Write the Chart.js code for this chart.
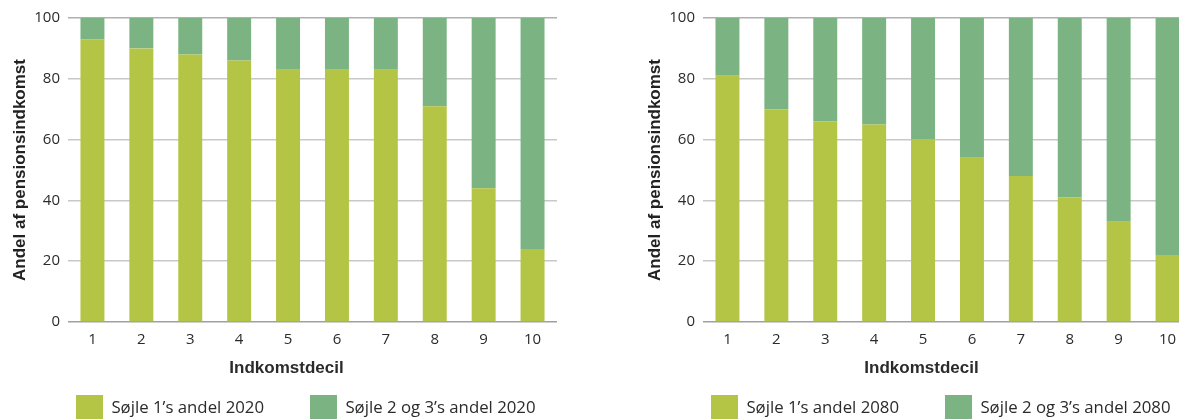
<!DOCTYPE html>
<html>
<head>
<meta charset="utf-8">
<script src="https://cdn.jsdelivr.net/npm/chart.js@4/dist/chart.umd.min.js"></script>
<style>
  html, body { margin: 0; padding: 0; background: #fff; }
  body { width: 1179px; height: 419px; overflow: hidden; position: relative; }
  .wrap { position: absolute; top: 0; width: 600px; height: 440px; }
  #w1 { left: 0px; }
  #w2 { left: 635px; }
</style>
</head>
<body>
<div class="wrap" id="w1"><canvas id="c1" width="600" height="440"></canvas></div>
<div class="wrap" id="w2"><canvas id="c2" width="600" height="440"></canvas></div>
<script>
// ---- data ----
const categories = ['1', '2', '3', '4', '5', '6', '7', '8', '9', '10'];
const yTicks = [0, 20, 40, 60, 80, 100];
const pillar1_2020 = [93, 90, 88, 86, 83, 83, 83, 71, 44, 24];
const pillar23_2020 = [7, 10, 12, 14, 17, 17, 17, 29, 56, 76];
const pillar1_2080 = [81, 70, 66, 65, 60, 54, 48, 41, 33, 22];
const pillar23_2080 = [19, 30, 34, 35, 40, 46, 52, 59, 67, 78];
const labels2020 = ['Søjle 1’s andel 2020', 'Søjle 2 og 3’s andel 2020'];
const labels2080 = ['Søjle 1’s andel 2080', 'Søjle 2 og 3’s andel 2080'];
const xTitle = 'Indkomstdecil';
const yTitle = 'Andel af pensionsindkomst';

// ---- styles ----
const YELLOW = '#b4c444';
const GREEN = '#7bb482';
const TEXT = '#2b2b2b';
const TICK_FONT = { family: '"Open Sans", sans-serif', size: 15 };
const LEGEND_FONT = { family: '"Open Sans", sans-serif', size: 16.8 };
const TITLE_FONT = { family: '"Liberation Sans", Arial, sans-serif', size: 17, weight: 'bold' };

function measure(text, font) {
  const c = document.createElement('canvas').getContext('2d');
  c.font = (font.weight ? font.weight + ' ' : '') + font.size + 'px ' + font.family;
  return c.measureText(text).width;
}

const layoutPlugin = {
  id: 'layoutTweaks',
  afterLayout(chart) {
    const lg = chart.legend;
    if (!lg) return;
    const pad = lg.options.labels.padding;
    lg.left = chart.chartArea.left + 8 - pad;
    lg.right = lg.left + 3000;
    lg.width = 3000;
    lg.top = 395 - pad;
    lg.bottom = lg.top + 100;
  },
  afterDraw(chart) {
    const ctx = chart.ctx;
    const a = chart.chartArea;
    ctx.save();
    ctx.font = 'bold 17px "Liberation Sans", Arial, sans-serif';
    ctx.fillStyle = TEXT;
    ctx.textAlign = 'center';
    ctx.textBaseline = 'middle';
    ctx.fillText(xTitle, (a.left + a.right) / 2 - 26, 368);
    ctx.restore();
  }
};

function makeChart(id, s1, s23, legendLabels) {
  const tw = measure(legendLabels[0], LEGEND_FONT);
  const legendPad = 234 - 27 - LEGEND_FONT.size / 2 - tw;
  return new Chart(document.getElementById(id), {
    type: 'bar',
    data: {
      labels: categories,
      datasets: [
        { label: legendLabels[0], data: s1, backgroundColor: YELLOW, borderWidth: 0 },
        { label: legendLabels[1], data: s23, backgroundColor: GREEN, borderWidth: 0 }
      ]
    },
    options: {
      responsive: false,
      animation: false,
      layout: { padding: { top: 18, left: 0, right: 43, bottom: 0 } },
      datasets: { bar: { categoryPercentage: 1, barPercentage: 0.49 } },
      plugins: {
        tooltip: { enabled: false },
        legend: {
          position: 'bottom',
          align: 'start',
          maxHeight: 60,
          labels: {
            boxWidth: 27,
            boxHeight: 27,
            padding: legendPad,
            color: TEXT,
            font: LEGEND_FONT
          }
        }
      },
      scales: {
        x: {
          stacked: true,
          grid: { display: false, drawTicks: false },
          border: { display: false },
          ticks: { color: TEXT, font: TICK_FONT, padding: 9, maxRotation: 0 },
          afterFit(s) { s.height = 58; }
        },
        y: {
          stacked: true,
          min: 0,
          max: 100,
          afterBuildTicks(s) { s.ticks = yTicks.map(v => ({ value: v })); },
          grid: {
            drawTicks: false,
            lineWidth: 1.6,
            color(ctx) {
              const v = ctx.tick && ctx.tick.value;
              if (v === 0) return '#a0a0a0';
              if (v === 100) return '#b0b0b0';
              return '#c8c8c8';
            }
          },
          border: { display: false },
          ticks: { color: TEXT, font: TICK_FONT, padding: 8 },
          title: {
            display: true,
            text: yTitle,
            color: '#222',
            font: TITLE_FONT,
            padding: { top: 10, bottom: 0 }
          },
          afterFit(s) { s.width = 68; }
        }
      }
    },
    plugins: [layoutPlugin]
  });
}

makeChart('c1', pillar1_2020, pillar23_2020, labels2020);
makeChart('c2', pillar1_2080, pillar23_2080, labels2080);
</script>
</body>
</html>
